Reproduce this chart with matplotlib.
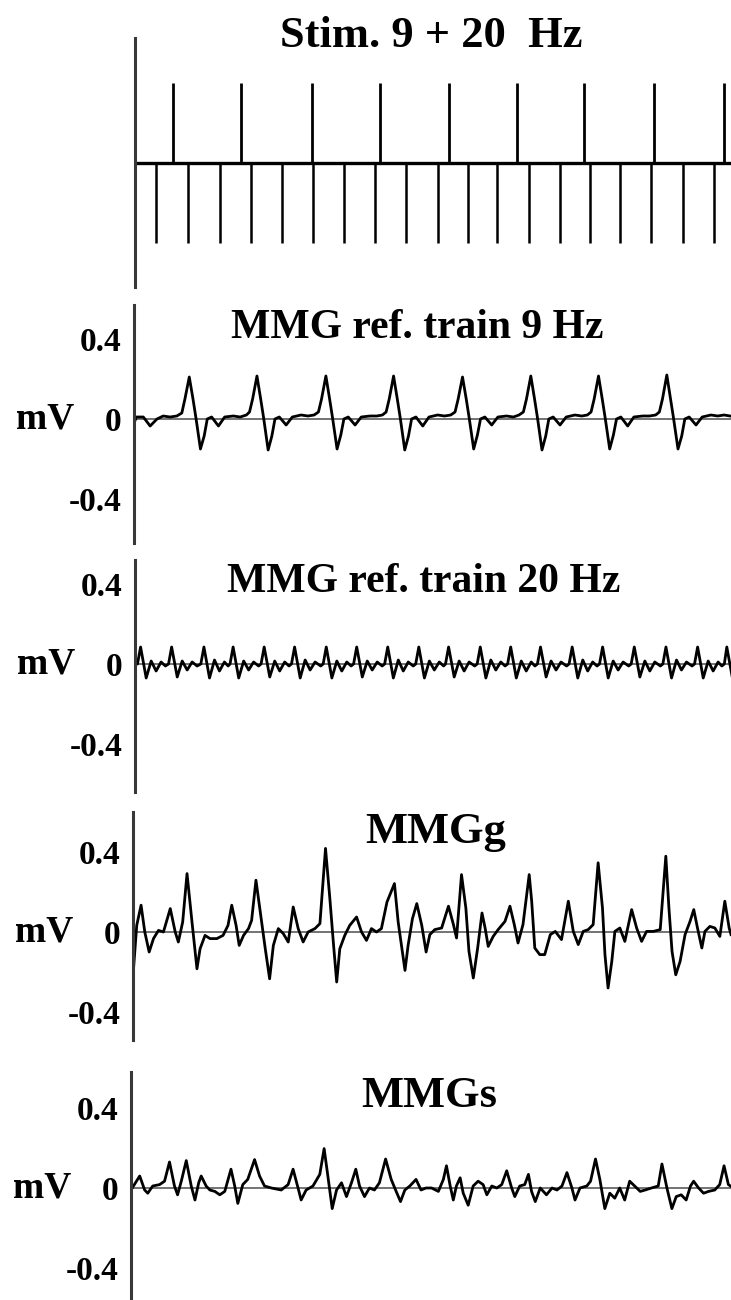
import numpy as np
import matplotlib
matplotlib.use("Agg")
import matplotlib.pyplot as plt

plt.rcParams["font.family"] = ["Liberation Serif", "DejaVu Serif"]
plt.rcParams["font.weight"] = "bold"

# stimulus times (ms): 9 Hz train drawn up, 20 Hz train drawn down
stim_9hz_ms = [61, 170, 285, 395, 505, 615, 723, 836, 948]
stim_20hz_ms = [34, 86, 137, 186, 237, 287, 337, 387, 437, 488,
                536, 583, 634, 684, 732, 781, 831, 882, 932]

# traces as (time ms, amplitude mV) vertices
mmg_9hz = [
    (0, -0.02), (4, 0.01), (15, 0.01), (26, -0.035), (37, 0.0), (47, 0.015), (58, 0.01), (69, 0.015),
    (77, 0.03), (82, 0.10), (89, 0.21), (95, 0.10), (100, 0.0), (107, -0.15), (113, -0.085), (118, 0.0),
    (125, 0.01), (136, -0.035), (146, 0.01), (160, 0.015), (171, 0.01), (181, 0.02),
    (186, 0.035), (191, 0.10), (198, 0.215), (204, 0.10), (209, 0.0), (216, -0.155), (222, -0.085),
    (227, 0.0), (234, 0.01), (245, -0.03), (255, 0.01), (269, 0.02), (280, 0.015), (290, 0.02),
    (297, 0.035), (302, 0.10), (309, 0.215), (315, 0.10), (320, 0.0), (327, -0.15), (333, -0.08),
    (338, 0.0), (345, 0.01), (356, -0.03), (366, 0.01), (380, 0.015), (391, 0.015), (400, 0.02),
    (406, 0.035), (411, 0.10), (418, 0.215), (424, 0.10), (429, 0.0), (436, -0.155), (442, -0.085),
    (447, 0.0), (454, 0.01), (465, -0.035), (475, 0.01), (489, 0.02), (500, 0.015), (510, 0.02),
    (517, 0.035), (522, 0.10), (529, 0.21), (535, 0.10), (540, 0.0), (547, -0.15), (553, -0.08),
    (558, 0.0), (565, 0.01), (576, -0.03), (586, 0.01), (600, 0.015), (611, 0.01), (620, 0.02),
    (627, 0.035), (632, 0.10), (639, 0.215), (645, 0.10), (650, 0.0), (657, -0.155), (663, -0.085),
    (668, 0.0), (675, 0.01), (686, -0.03), (696, 0.01), (710, 0.02), (721, 0.015), (730, 0.02),
    (736, 0.035), (741, 0.10), (748, 0.215), (754, 0.10), (759, 0.0), (766, -0.15), (772, -0.08),
    (777, 0.0), (784, 0.01), (795, -0.035), (805, 0.01), (819, 0.015), (830, 0.015), (840, 0.02),
    (846, 0.035), (851, 0.10), (858, 0.22), (864, 0.10), (869, 0.0), (876, -0.15), (882, -0.085),
    (887, 0.0), (894, 0.01), (905, -0.03), (915, 0.01), (929, 0.02), (940, 0.015), (950, 0.02),
    (960, 0.015),
]

mmg_20hz = [
    (0, 0.0), (4, 0.0), (9, 0.085), (18, -0.07), (26, 0.015), (34, -0.035), (42, 0.01), (49, -0.01),
    (54, 0.0), (59, 0.085), (68, -0.065), (76, 0.015), (84, -0.03), (92, 0.01), (100, -0.01),
    (106, 0.0), (111, 0.085), (120, -0.07), (128, 0.02), (136, -0.035), (144, 0.01), (150, -0.01),
    (153, 0.0), (158, 0.085), (167, -0.07), (175, 0.015), (183, -0.03), (191, 0.01), (199, -0.01),
    (203, 0.0), (208, 0.085), (217, -0.065), (225, 0.015), (233, -0.035), (241, 0.01), (248, -0.01),
    (252, 0.0), (257, 0.085), (266, -0.07), (274, 0.02), (282, -0.03), (290, 0.01), (299, -0.01),
    (303, 0.0), (308, 0.085), (317, -0.07), (325, 0.015), (333, -0.035), (341, 0.01), (348, -0.01),
    (352, 0.0), (357, 0.085), (366, -0.065), (374, 0.015), (382, -0.03), (390, 0.01), (398, -0.01),
    (402, 0.0), (407, 0.085), (416, -0.07), (424, 0.02), (432, -0.035), (440, 0.01), (448, -0.01),
    (452, 0.0), (457, 0.085), (466, -0.07), (474, 0.015), (482, -0.03), (490, 0.01), (497, -0.01),
    (500, 0.0), (505, 0.085), (514, -0.065), (522, 0.015), (530, -0.035), (538, 0.01), (547, -0.01),
    (551, 0.0), (556, 0.085), (565, -0.07), (573, 0.02), (581, -0.03), (589, 0.01), (596, -0.01),
    (600, 0.0), (605, 0.085), (614, -0.07), (622, 0.015), (630, -0.035), (638, 0.01), (644, -0.01),
    (648, 0.0), (653, 0.085), (662, -0.065), (670, 0.015), (678, -0.03), (686, 0.01), (695, -0.01),
    (699, 0.0), (704, 0.085), (713, -0.07), (721, 0.02), (729, -0.035), (737, 0.01), (744, -0.01),
    (748, 0.0), (753, 0.085), (762, -0.07), (770, 0.015), (778, -0.03), (786, 0.01), (795, -0.01),
    (799, 0.0), (804, 0.085), (813, -0.065), (821, 0.015), (829, -0.035), (837, 0.01), (846, -0.01),
    (850, 0.0), (855, 0.085), (864, -0.07), (872, 0.02), (880, -0.03), (888, 0.01), (897, -0.01),
    (901, 0.0), (906, 0.085), (915, -0.07), (923, 0.015), (931, -0.035), (939, 0.01), (945, -0.01),
    (949, 0.0), (953, 0.085), (962, -0.07),
]

mmg_g = [
    (0, -0.22), (6, 0.033), (13, 0.134), (19, 0.0), (26, -0.10), (33, -0.033), (41, 0.008), (49, 0.0),
    (60, 0.117), (68, 0.0), (73, -0.05), (80, 0.05), (87, 0.292), (95, 0.05), (103, -0.184),
    (108, -0.084), (116, -0.017), (124, -0.033), (135, -0.033), (145, -0.017), (153, 0.033),
    (159, 0.134), (166, 0.033), (171, -0.067), (178, -0.017), (186, 0.017), (191, 0.058),
    (198, 0.259), (205, 0.10), (213, -0.084), (220, -0.234), (226, -0.067), (234, 0.017),
    (242, -0.008), (250, -0.05), (258, 0.125), (266, 0.017), (274, -0.05), (282, 0.0), (293, 0.017),
    (301, 0.042), (310, 0.418), (317, 0.167), (323, -0.067), (328, -0.25), (333, -0.084),
    (341, -0.017), (349, 0.033), (360, 0.075), (368, 0.0), (376, -0.042), (384, 0.017), (392, 0.0),
    (400, 0.017), (409, 0.15), (421, 0.242), (427, 0.05), (433, -0.084), (438, -0.192),
    (443, -0.067), (450, 0.067), (457, 0.142), (465, 0.033), (472, -0.10), (478, -0.013),
    (486, 0.012), (497, 0.02), (508, 0.129), (516, 0.037), (521, -0.03), (529, 0.287), (536, 0.12),
    (541, -0.097), (548, -0.23), (555, -0.08), (562, 0.095), (567, 0.02), (572, -0.072),
    (580, -0.022), (588, 0.012), (599, 0.053), (607, 0.129), (614, 0.037), (620, -0.055),
    (628, 0.037), (638, 0.287), (642, 0.154), (647, -0.08), (655, -0.113), (663, -0.113),
    (672, -0.013), (680, 0.003), (690, -0.038), (701, 0.154), (709, 0.003), (717, -0.063),
    (725, 0.003), (733, 0.012), (741, 0.037), (749, 0.346), (756, 0.12), (760, -0.113),
    (765, -0.28), (771, -0.147), (776, 0.003), (784, 0.02), (792, -0.047), (803, 0.112),
    (811, 0.02), (819, -0.047), (827, 0.003), (838, 0.003), (849, 0.012), (858, 0.379),
    (863, 0.12), (868, -0.097), (874, -0.214), (881, -0.147), (889, -0.013), (897, 0.053),
    (903, 0.112), (909, 0.02), (916, -0.08), (921, 0.003), (929, 0.028), (937, 0.02),
    (945, -0.022), (953, 0.154), (960, 0.02), (963, -0.013),
]

mmg_s = [
    (0, -0.01), (14, 0.06), (22, -0.01), (27, -0.026), (35, 0.01), (46, 0.017), (54, 0.034),
    (62, 0.13), (70, 0.01), (75, -0.034), (81, 0.034), (89, 0.137), (97, 0.01), (103, -0.06),
    (109, 0.026), (113, 0.06), (121, 0.01), (127, -0.01), (135, -0.017), (143, -0.034),
    (151, -0.017), (161, 0.094), (167, 0.01), (172, -0.077), (180, 0.017), (188, 0.043),
    (199, 0.142), (207, 0.06), (215, 0.01), (226, 0.0), (242, -0.01), (253, 0.017), (261, 0.094),
    (269, 0.0), (274, -0.06), (282, -0.01), (293, 0.01), (304, 0.068), (311, 0.197), (317, 0.06),
    (324, -0.103), (331, -0.01), (339, 0.026), (347, -0.043), (355, 0.026), (362, 0.094),
    (368, 0.01), (376, -0.043), (384, 0.0), (392, -0.01), (400, 0.026), (410, 0.145),
    (419, 0.043), (427, -0.017), (434, -0.068), (441, -0.01), (449, 0.01), (459, 0.043),
    (467, -0.01), (475, 0.0), (484, 0.0), (495, -0.017), (503, 0.043), (508, 0.111), (514, 0.01),
    (519, -0.06), (524, 0.01), (530, 0.051), (535, -0.026), (543, -0.086), (551, 0.01),
    (559, 0.034), (567, 0.017), (573, -0.034), (581, 0.01), (589, 0.0), (597, 0.017),
    (605, 0.086), (613, 0.0), (618, -0.043), (626, 0.01), (634, 0.017), (640, 0.068),
    (645, -0.017), (651, -0.068), (659, 0.0), (669, -0.034), (678, 0.0), (686, -0.01), (694, 0.01),
    (702, 0.077), (710, 0.0), (715, -0.06), (723, 0.0), (734, 0.01), (740, 0.034), (748, 0.145),
    (755, 0.043), (763, -0.103), (771, -0.026), (779, -0.051), (787, 0.0), (795, -0.06),
    (803, 0.034), (811, 0.01), (820, -0.017), (828, -0.01), (838, 0.0), (849, 0.01), (855, 0.12),
    (863, 0.0), (871, -0.103), (878, -0.043), (886, -0.034), (894, -0.06), (901, 0.01),
    (906, 0.034), (914, 0.0), (922, -0.026), (930, -0.017), (940, -0.01), (948, 0.017),
    (955, 0.111), (962, 0.017), (970, 0.0),
]

titles = ["Stim. 9 + 20  Hz", "MMG ref. train 9 Hz", "MMG ref. train 20 Hz", "MMGg", "MMGs"]
ytick_vals = [0.4, 0, -0.4]
ytick_labels = ["0.4", "0", "-0.4"]

W, H = 731, 1300
MS_PER_PX = 1 / 0.621

fig = plt.figure(figsize=(W / 100, H / 100), dpi=100)


def add_panel(left, top, bottom):
    ax = fig.add_axes([left / W, 1 - bottom / H, (W - left) / W, (bottom - top) / H])
    ax.set_xlim(0, (W - left) * MS_PER_PX)
    for side in ("top", "right", "bottom"):
        ax.spines[side].set_visible(False)
    ax.spines["left"].set_linewidth(2.2)
    ax.spines["left"].set_color("#383838")
    ax.set_xticks([])
    ax.patch.set_alpha(0)
    return ax


# stimulus panel
ax = add_panel(135, 38, 287)
ax.set_ylim(-(287 - 163) / 80, (163 - 38) / 80)
ax.axhline(0, color="black", lw=2.4)
ax.vlines(stim_9hz_ms, 0, 1, color="black", lw=2.0)
ax.vlines(stim_20hz_ms, -1, 0, color="black", lw=1.8)
ax.set_yticks([])
fig.text(431 / W, 1 - 47 / H, titles[0], ha="center", va="baseline", fontsize=32, fontweight="bold")

# (trace, left px, top px, bottom px, zero px, title baseline px, title x px, title size)
panels = [
    (mmg_9hz, 134, 305, 543, 419, 338, 417, 30),
    (mmg_20hz, 135, 560, 792, 664, 592, 424, 30),
    (mmg_g, 133, 812, 1040, 932, 843, 436, 32),
    (mmg_s, 131, 1072, 1298, 1188, 1107, 429, 32),
]

for i, (trace, left, top, bottom, zero, tb, tx, ts) in enumerate(panels):
    ax = add_panel(left, top, bottom)
    px_per_mv = 200.0
    ax.set_ylim(-(bottom - zero) / px_per_mv, (zero - top) / px_per_mv)
    t = np.array([p[0] for p in trace])
    v = np.array([p[1] for p in trace])
    ax.axhline(0, color="0.45", lw=1.4, zorder=1)
    ax.plot(t, v, color="black", lw=2.0, zorder=2, solid_joinstyle="round")
    ax.set_yticks(ytick_vals)
    ax.set_yticklabels(ytick_labels, fontsize=24, fontweight="bold")
    ax.tick_params(axis="y", length=0, pad=9)
    ax.annotate("mV", xy=(0, 0), xycoords=ax.get_yaxis_transform(),
                xytext=(-64, 0), textcoords="offset points",
                ha="center", va="center", fontsize=27, fontweight="bold")
    fig.text(tx / W, 1 - tb / H, titles[i + 1], ha="center", va="baseline",
             fontsize=ts, fontweight="bold")

fig.savefig("out.png", dpi=100)
